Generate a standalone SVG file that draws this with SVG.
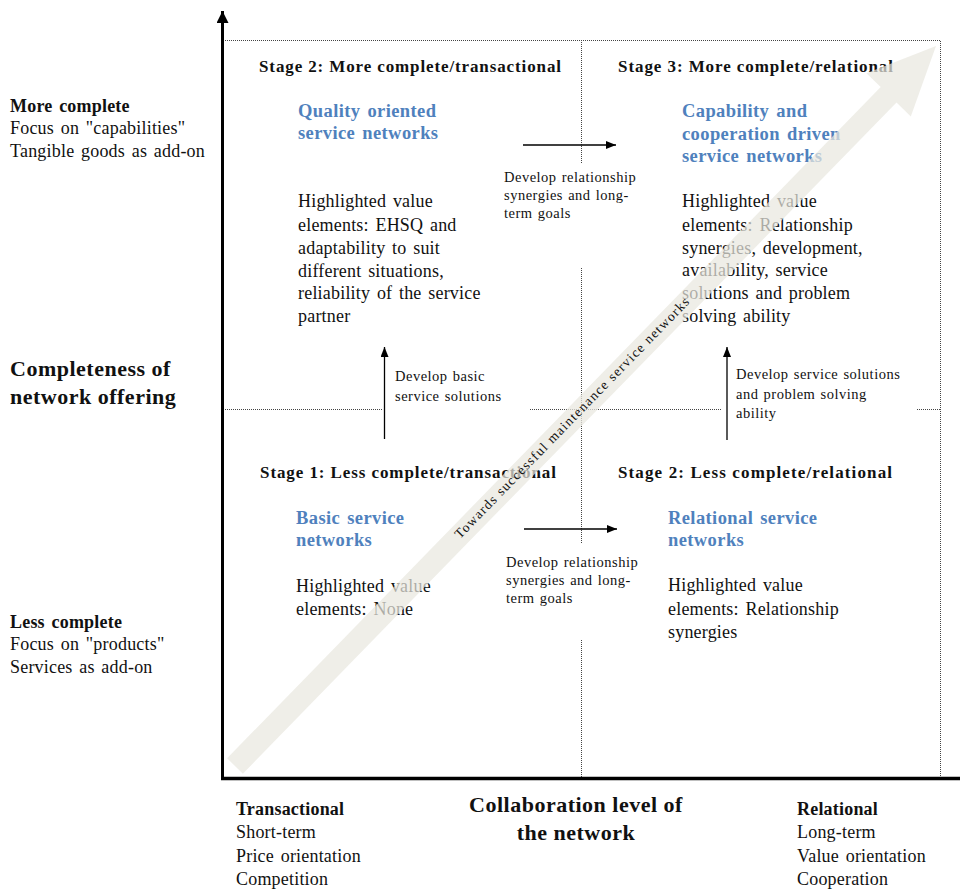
<svg xmlns="http://www.w3.org/2000/svg" width="960" height="889" viewBox="0 0 960 889">
  <defs>
    <marker id="head" viewBox="0 0 10 8" refX="10" refY="4" markerWidth="10" markerHeight="8" markerUnits="userSpaceOnUse" orient="auto">
      <path d="M0,0 L10,4 L0,8 Z" fill="#000"/>
    </marker>
    <marker id="axishead" viewBox="0 0 12 12" refX="12" refY="6" markerWidth="12" markerHeight="12" markerUnits="userSpaceOnUse" orient="auto">
      <path d="M0,0 L12,6 L0,12 Z" fill="#000"/>
    </marker>
  </defs>
  <style>
    text { font-family: "Liberation Serif", "Times New Roman", serif; fill: #111; }
    .stage { font-size: 17px; font-weight: bold; }
    .title { font-size: 18.5px; font-weight: bold; fill: #4f81bd; letter-spacing: 0.4px; word-spacing: 2px; }
    .body { font-size: 18px; letter-spacing: 0.2px; word-spacing: 2px; }
    .small { font-size: 14.5px; letter-spacing: 0.5px; word-spacing: 1px; }
    .lbl { font-size: 18px; letter-spacing: 0.2px; word-spacing: 2px; }
    .lblb { font-size: 18px; font-weight: bold; letter-spacing: 0.2px; word-spacing: 2px; }
    .axis { font-size: 22px; font-weight: bold; letter-spacing: 0.5px; }
    .grid { stroke: #444; stroke-width: 1; stroke-dasharray: 1 1; fill: none; }
    .conn { stroke: #000; stroke-width: 1.3; fill: none; marker-end: url(#head); }
  </style>

  <rect width="960" height="889" fill="#fff"/>

  <!-- quadrant grid (dotted) -->
  <g id="grid">
    <path class="grid" d="M225,40.5 H940.5 V778"/>
    <path class="grid" d="M581.5,40 V163 M581.5,268 V543 M581.5,640 V778"/>
    <path class="grid" d="M225,409.5 H383 M530,409.5 H722 M917,409.5 H940"/>
  </g>

  <!-- axes -->
  <g id="axes">
    <line x1="222.5" y1="780" x2="222.5" y2="11" stroke="#000" stroke-width="3" marker-end="url(#axishead)"/>
    <line x1="221" y1="778.5" x2="960" y2="778.5" stroke="#000" stroke-width="3.5"/>
  </g>

  <!-- quadrant nodes -->
  <g id="stage2-transactional">
    <text class="stage" x="259" y="72" textLength="302" lengthAdjust="spacing">Stage 2: More complete/transactional</text>
    <text class="title" x="298" y="117">Quality oriented</text>
    <text class="title" x="298" y="139">service networks</text>
    <text class="body" x="298" y="207">Highlighted value</text>
    <text class="body" x="298" y="231">elements: EHSQ and</text>
    <text class="body" x="298" y="254">adaptability to suit</text>
    <text class="body" x="298" y="277">different situations,</text>
    <text class="body" x="298" y="299">reliability of the service</text>
    <text class="body" x="298" y="322">partner</text>
  </g>

  <g id="stage3-relational">
    <text class="stage" x="618" y="72" textLength="275" lengthAdjust="spacing">Stage 3: More complete/relational</text>
    <text class="title" x="682" y="117">Capability and</text>
    <text class="title" x="682" y="140">cooperation driven</text>
    <text class="title" x="682" y="162">service networks</text>
    <text class="body" x="682" y="207">Highlighted value</text>
    <text class="body" x="682" y="231">elements: Relationship</text>
    <text class="body" x="682" y="254">synergies, development,</text>
    <text class="body" x="682" y="276">availability, service</text>
    <text class="body" x="682" y="299">solutions and problem</text>
    <text class="body" x="682" y="322">solving ability</text>
  </g>

  <g id="stage1-transactional">
    <text class="stage" x="260" y="478" textLength="296" lengthAdjust="spacing">Stage 1: Less complete/transactional</text>
    <text class="title" x="296" y="524">Basic service</text>
    <text class="title" x="296" y="546">networks</text>
    <text class="body" x="296" y="592">Highlighted value</text>
    <text class="body" x="296" y="615">elements: None</text>
  </g>

  <g id="stage2-relational">
    <text class="stage" x="618" y="478" textLength="274" lengthAdjust="spacing">Stage 2:  Less complete/relational</text>
    <text class="title" x="668" y="524">Relational service</text>
    <text class="title" x="668" y="546">networks</text>
    <text class="body" x="668" y="591">Highlighted value</text>
    <text class="body" x="668" y="615">elements: Relationship</text>
    <text class="body" x="668" y="638">synergies</text>
  </g>

  <!-- development connectors -->
  <g id="connectors">
    <line class="conn" x1="523" y1="145" x2="616" y2="145"/>
    <line class="conn" x1="524" y1="529" x2="617" y2="529"/>
    <line class="conn" x1="384.5" y1="439" x2="384.5" y2="347"/>
    <line class="conn" x1="727" y1="440" x2="727" y2="347"/>
    <text class="small" x="504" y="182">Develop relationship</text>
    <text class="small" x="504" y="200">synergies and long-</text>
    <text class="small" x="504" y="218">term goals</text>
    <text class="small" x="506" y="567">Develop relationship</text>
    <text class="small" x="506" y="585">synergies and long-</text>
    <text class="small" x="506" y="603">term goals</text>
    <text class="small" x="395" y="381">Develop basic</text>
    <text class="small" x="395" y="401">service solutions</text>
    <text class="small" x="736" y="379">Develop service solutions</text>
    <text class="small" x="736" y="399">and problem solving</text>
    <text class="small" x="736" y="418">ability</text>
  </g>

  <!-- vertical axis labels -->
  <g id="y-labels">
    <text class="lblb" x="10" y="112">More complete</text>
    <text class="lbl" x="10" y="134">Focus on "capabilities"</text>
    <text class="lbl" x="10" y="157">Tangible goods as add-on</text>
    <text class="axis" x="10" y="376">Completeness of</text>
    <text class="axis" x="10" y="404">network offering</text>
    <text class="lblb" x="10" y="628">Less complete</text>
    <text class="lbl" x="10" y="650">Focus on "products"</text>
    <text class="lbl" x="10" y="673">Services as add-on</text>
  </g>

  <!-- horizontal axis labels -->
  <g id="x-labels">
    <text class="lblb" x="236" y="815">Transactional</text>
    <text class="lbl" x="236" y="838">Short-term</text>
    <text class="lbl" x="236" y="862">Price orientation</text>
    <text class="lbl" x="236" y="885">Competition</text>
    <text class="axis" x="576" y="812" text-anchor="middle">Collaboration level of</text>
    <text class="axis" x="576" y="840" text-anchor="middle">the network</text>
    <text class="lblb" x="797" y="815">Relational</text>
    <text class="lbl" x="797" y="838">Long-term</text>
    <text class="lbl" x="797" y="862">Value orientation</text>
    <text class="lbl" x="797" y="885">Cooperation</text>
  </g>

  <!-- translucent progression arrow over the grid -->
  <g id="progression">
    <polygon points="227.1,758.3 880.7,87.1 866.4,73.2 936,46 910.8,116.4 896.5,102.5 242.9,773.7" fill="#e9e7df" fill-opacity="0.72"/>
    <text x="575" y="421" font-size="13.5" text-anchor="middle" textLength="330" lengthAdjust="spacing" transform="rotate(-45.8 575 421)">Towards successful maintenance service networks</text>
  </g>
</svg>
